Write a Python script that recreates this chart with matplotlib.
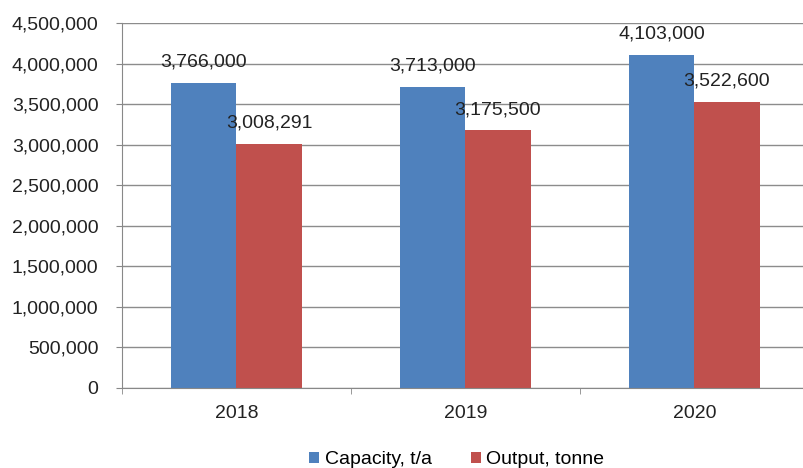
import matplotlib

matplotlib.use("Agg")
import matplotlib.pyplot as plt
import numpy as np
from matplotlib.ticker import FuncFormatter

plt.rcParams["font.family"] = ["Liberation Sans", "DejaVu Sans"]

years = ["2018", "2019", "2020"]
capacity = [3766000, 3713000, 4103000]
output = [3008291, 3175500, 3522600]

_BLUE = "#4F81BD"
_RED = "#C0504D"
FS = 14

fig = plt.figure(figsize=(8.04, 4.68), dpi=100)
ax = fig.add_axes([122 / 804, 80 / 468, 687 / 804, 365 / 468])

x = np.arange(len(years))
w = 0.284
b1 = ax.bar(x - w / 2, capacity, w, color=_BLUE, label="Capacity, t/a", zorder=2)
b2 = ax.bar(x + w / 2, output, w, color=_RED, label="Output, tonne", zorder=2)

for bars in (b1, b2):
    for b in bars:
        v = b.get_height()
        ax.annotate(f"{v:,.0f}", (b.get_x() + b.get_width() / 2, v), xytext=(0, 15),
                    textcoords="offset points", ha="center", va="center", fontsize=FS,
                    color="#222", zorder=3)

ax.set_xlim(-0.5, 2.5)
ax.set_ylim(0, 4500000)
ax.set_yticks(np.arange(0, 4500001, 500000))
ax.yaxis.set_major_formatter(FuncFormatter(lambda v, _: f"{v:,.0f}"))
ax.set_xticks(x)
ax.set_xticklabels(years)
ax.set_xticks([-0.5, 0.5, 1.5, 2.5], minor=True)
ax.tick_params(axis="x", which="major", length=0, labelsize=FS, pad=12, colors="#222")
ax.tick_params(axis="x", which="minor", length=4, color="#888")
ax.tick_params(axis="y", length=4, color="#888", labelsize=FS, labelcolor="#222", pad=13)
ax.grid(axis="y", color="#8c8c8c", linewidth=1, zorder=0)
for s in ("top", "right"):
    ax.spines[s].set_visible(False)
for s in ("left", "bottom"):
    ax.spines[s].set_color("#888")

fig.legend(handles=[b1, b2], loc="center", bbox_to_anchor=(457 / 804, 1 - 460 / 468), ncol=2,
           frameon=False, fontsize=FS, handlelength=0.5, handleheight=0.5, handletextpad=0.3,
           columnspacing=2.0)

fig.savefig("out.png", dpi=100)
plt.close(fig)
